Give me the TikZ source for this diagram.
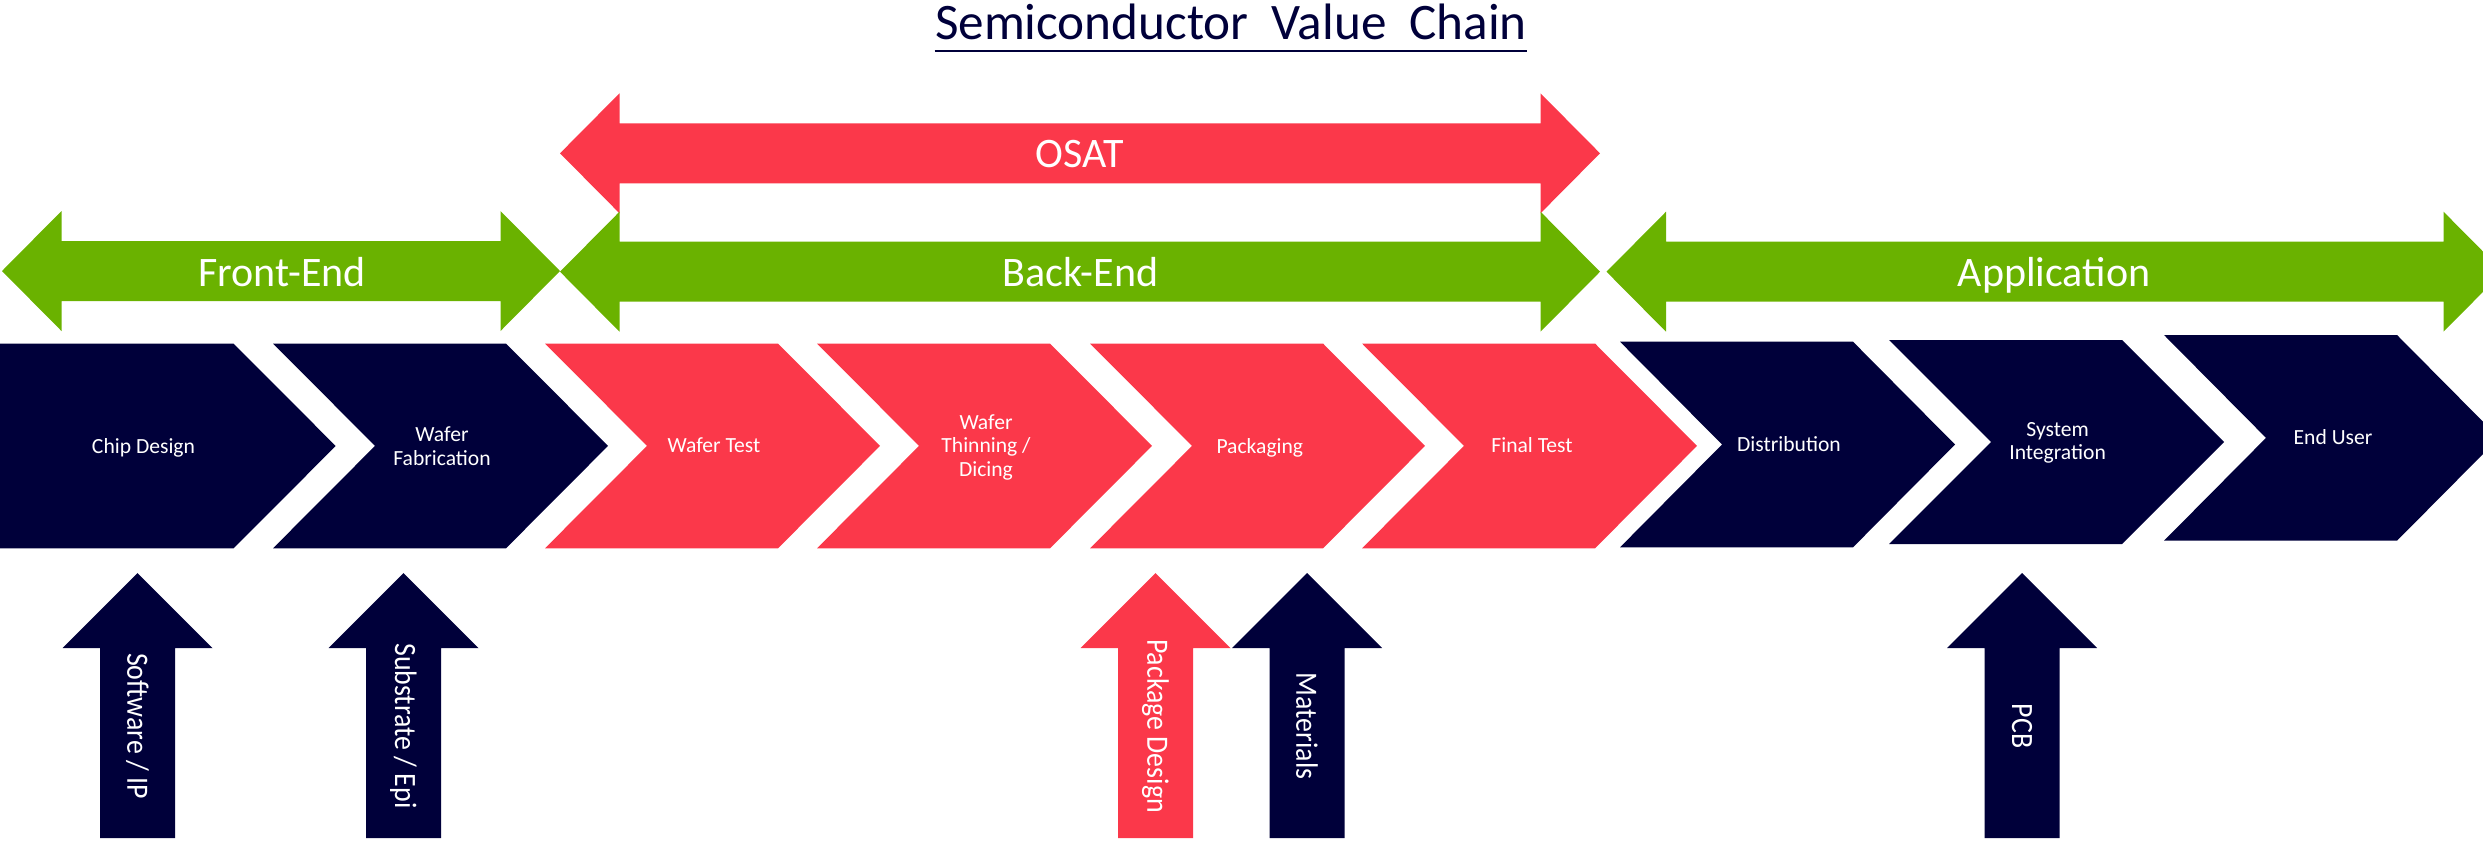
\documentclass[tikz,border=0pt]{standalone}
\usepackage{fontspec}
\setmainfont{Carlito}
\newfontfamily\inputfont[FakeStretch=0.9]{Carlito}

\definecolor{navy}{RGB}{0,0,58}
\definecolor{coral}{RGB}{251,56,74}
\definecolor{leaf}{RGB}{106,178,0}

% chevron: colour, left x, top y, bottom y
\newcommand\ChevronShape[4]{%
  \fill[#1] (#2,#3) -- (#2+233,#3) -- (#2+335,{(#3+#4)/2}) -- (#2+233,#4)
    -- (#2,#4) -- (#2+102,{(#3+#4)/2}) -- cycle;}

% upward block arrow: colour, centre x
\newcommand\UpArrowShape[2]{%
  \fill[#1] (#2,573) -- (#2+75,648) -- (#2+37.5,648) -- (#2+37.5,838)
    -- (#2-37.5,838) -- (#2-37.5,648) -- (#2-75,648) -- cycle;}

% left-right block arrow: colour, left tip x, right tip x, centre y
\newcommand\BandArrowShape[4]{%
  \fill[#1] (#2,#4) -- (#2+59.5,#4-60) -- (#2+59.5,#4-30) -- (#3-59.5,#4-30)
    -- (#3-59.5,#4-60) -- (#3,#4) -- (#3-59.5,#4+60) -- (#3-59.5,#4+30)
    -- (#2+59.5,#4+30) -- (#2+59.5,#4+60) -- cycle;}

\tikzset{
  steplabel/.style={text=white, align=center, inner sep=0pt,
    font=\fontsize{10.8}{11.7}\selectfont},
  bandlabel/.style={text=white, anchor=base, inner sep=0pt,
    font=\fontsize{21}{25}\selectfont},
  inputlabel/.style={text=white, rotate=-90, inner sep=0pt,
    font=\inputfont\fontsize{15.5}{18}\selectfont},
}

\begin{document}
\begin{tikzpicture}[x=0.5pt,y=-0.5pt]
\path[use as bounding box] (0,0) rectangle (2483,843);
\clip (0,0) rectangle (2483,843);

% title
\node[anchor=base, inner sep=0pt, text=navy, font=\fontsize{25.6}{30}\selectfont]
  (title) at (1231,39.3) {Semiconductor\hspace{11.5pt}Value\hspace{11.5pt}Chain};
\draw[navy, line width=1.3pt] ([yshift=-5.8pt]title.base west) -- ([yshift=-5.8pt]title.base east);

% stage bands
\BandArrowShape{coral}{560}{1600}{153.3}
\BandArrowShape{leaf}{2}{560}{271}
\BandArrowShape{leaf}{560}{1600}{271.7}
\BandArrowShape{leaf}{1606.5}{2503}{271.7}

\node[bandlabel] (osat) at (1080,167.7) {OSAT};
\node[bandlabel] (frontend) at (282,286.7) {Front-End};
\node[bandlabel] (backend) at (1080.5,286.7) {Back-End};
\node[bandlabel] (application) at (2054,286.7) {Application};

% value chain steps
\fill[navy] (-5,343.5) -- (233.5,343.5) -- (335.7,446) -- (233.5,548.3) -- (-5,548.3) -- cycle;
\ChevronShape{navy}{273}{343.5}{548.3}
\ChevronShape{coral}{545}{343.5}{548.3}
\ChevronShape{coral}{817}{343.5}{548.3}
\ChevronShape{coral}{1090}{343.5}{548.3}
\ChevronShape{coral}{1362}{343.5}{548.3}
\ChevronShape{navy}{1620}{341.7}{547.3}
\ChevronShape{navy}{1889}{340}{544}
\ChevronShape{navy}{2164}{335}{540.7}

\node[steplabel] (chip) at (143.5,448) {Chip Design};
\node[steplabel] (fab) at (442,446) {Wafer\\Fabrication};
\node[steplabel] (wtest) at (714,445.5) {Wafer Test};
\node[steplabel] (thin) at (986,447.4) {Wafer\\Thinning /\\Dicing};
\node[steplabel] (pack) at (1259.8,447.7) {Packaging};
\node[steplabel] (ftest) at (1532,445) {Final Test};
\node[steplabel] (dist) at (1789,444) {Distribution};
\node[steplabel] (sysint) at (2057.6,443) {System\\Integration};
\node[steplabel] (enduser) at (2333,437.5) {End User};

% inputs
\UpArrowShape{navy}{137.5}
\UpArrowShape{navy}{403.5}
\UpArrowShape{coral}{1155.5}
\UpArrowShape{navy}{1307}
\UpArrowShape{navy}{2022}

\node[inputlabel] (software) at (137.5,726) {Software / IP};
\node[inputlabel] (substrate) at (403.5,726) {Substrate / Epi};
\node[inputlabel] (pkgdesign) at (1155.5,726) {Package Design};
\node[inputlabel] (materials) at (1307,726) {Materials};
\node[inputlabel] (pcb) at (2022,726) {PCB};
\end{tikzpicture}
\end{document}
